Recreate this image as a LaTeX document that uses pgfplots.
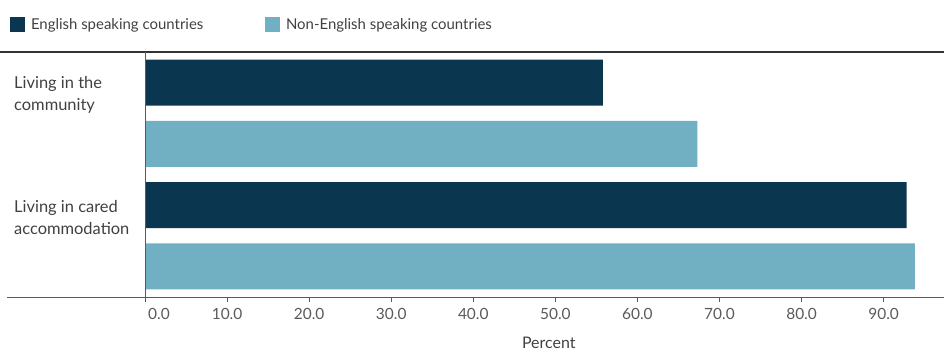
\documentclass[border=0pt]{standalone}
\usepackage{pgfplots}
\pgfplotsset{compat=1.18}
\usepackage{fontspec}
\setmainfont{Lato}
\definecolor{darkb}{HTML}{0B3650}
\definecolor{lightb}{HTML}{71B0C2}
\definecolor{txt}{HTML}{404040}
\definecolor{tickc}{HTML}{5A5A5A}
\definecolor{topc}{HTML}{333333}
\begin{document}
\begin{tikzpicture}
\begin{axis}[
  scale only axis,
  width=795bp, height=245bp,
  xmin=0, xmax=96.87,
  ymin=-0.5, ymax=3.5, y dir=reverse,
  clip=false,
  axis line style={draw=none},
  xbar, bar width=46bp, bar shift=0pt,
  xtick={0,10,...,90},
  xticklabels={\hspace{28bp}0.0,10.0,20.0,30.0,40.0,50.0,60.0,70.0,80.0,90.0},
  xtick pos=bottom, xtick align=outside,
  major tick length=5bp,
  xtick style={draw=tickc, line width=0.8pt},
  xticklabel style={font=\fontsize{15.5}{17}\selectfont, text=tickc, yshift=-3bp},
  ytick={0.2,2.2},
  yticklabels={Living in the\\community, Living in cared\\accommodation},
  ytick style={draw=none},
  yticklabel style={anchor=west, align=left, inner sep=0pt, xshift=-126bp, font=\fontsize{16.5}{22}\selectfont, text=txt},
  legend columns=2,
  legend cell align=left,
  legend style={at={(-0.1698,1.1122)}, anchor=west, draw=none, fill=none, inner sep=0pt, outer sep=0pt,
    nodes={inner sep=0pt, outer sep=0pt, font=\fontsize{15}{17}\selectfont, text=txt},
    /tikz/every odd column/.append style={column sep=6bp}},
]
\addplot[fill=darkb, draw=none,
  legend image code/.code={\fill[darkb] (0bp,-7.5bp) rectangle (15bp,7.5bp);}]
  coordinates {(55.8,0) (92.8,2)};
\addlegendentry{\makebox[234bp][l]{English speaking countries}}
\addplot[fill=lightb, draw=none,
  legend image code/.code={\fill[lightb] (0bp,-7.5bp) rectangle (15bp,7.5bp);}]
  coordinates {(67.3,1) (93.8,3)};
\addlegendentry{Non-English speaking countries}
\draw[topc, line width=1.3bp] (axis cs:-17.668,-0.5) -- (axis cs:97.356,-0.5);
\draw[tickc, line width=1bp] (axis cs:-16.815,3.5) -- (axis cs:97.356,3.5);
\draw[tickc, line width=1bp] (axis cs:0,-0.5) -- (axis cs:0,3.5);
\node[font=\fontsize{16}{18}\selectfont, text=txt] at (axis cs:49.2,3.5) [yshift=-46bp] {Percent};
\coordinate (bbsw) at (axis cs:-17.668,4.414);
\coordinate (bbne) at (axis cs:97.356,-1.349);
\end{axis}
\pgfresetboundingbox
\useasboundingbox (bbsw) rectangle (bbne);
\end{tikzpicture}
\end{document}
